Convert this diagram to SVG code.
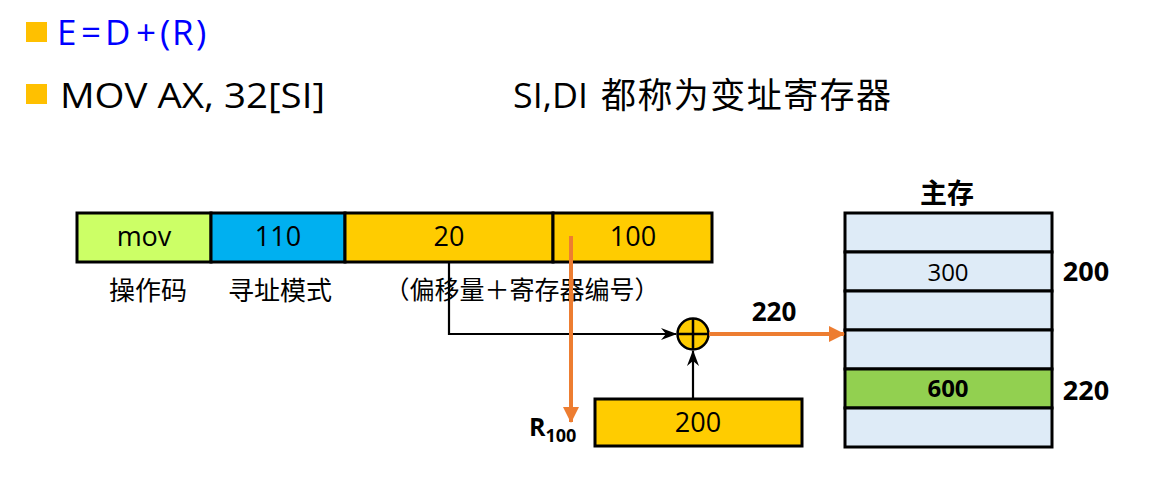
<svg xmlns="http://www.w3.org/2000/svg" width="1166" height="486" viewBox="0 0 1166 486">
<style>
text{font-family:"Open Sans","Noto Sans CJK SC",sans-serif;fill:#000}
.cjk{font-family:"Noto Sans CJK SC",sans-serif}
.box{stroke:#000;stroke-width:3}
.c{text-anchor:middle}
.b{font-weight:bold}
.blk{stroke:#000;stroke-width:2.2;fill:none}
.org{stroke:#ED7D31;stroke-width:4;fill:none}
</style>
<defs>
<marker id="ab" viewBox="0 0 16 12" refX="15" refY="6" markerWidth="16" markerHeight="12" markerUnits="userSpaceOnUse" orient="auto">
<path d="M0,0 L16,6 L0,12 L5,6 Z" fill="#000"/>
</marker>
<marker id="ao" viewBox="0 0 16 16" refX="15" refY="8" markerWidth="16" markerHeight="16" markerUnits="userSpaceOnUse" orient="auto">
<path d="M0,0 L16,8 L0,16 Z" fill="#ED7D31"/>
</marker>
</defs>

<g id="title">
<rect x="26" y="22" width="21" height="20" fill="#FFC000"/>
<text x="57 81 105 136 160 172 196" y="45" font-size="35" style="fill:#0000FF">E=D+(R)</text>
<rect x="26" y="84" width="21" height="20" fill="#FFC000"/>
<text x="60" y="108" font-size="34" textLength="265" lengthAdjust="spacingAndGlyphs">MOV AX, 32[SI]</text>
<text x="513" y="108" font-size="34" textLength="75" lengthAdjust="spacingAndGlyphs">SI,DI</text>
<text class="cjk" x="601" y="108" font-size="35" textLength="290" lengthAdjust="spacing">都称为变址寄存器</text>
</g>

<g id="instruction">
<rect class="box" x="77" y="213" width="134" height="49" fill="#CCFF66"/>
<rect class="box" x="211" y="213" width="134" height="49" fill="#00B0F0"/>
<rect class="box" x="345" y="213" width="208" height="49" fill="#FFCC00"/>
<rect class="box" x="553" y="213" width="159" height="49" fill="#FFCC00"/>
<text class="c" x="144" y="246" font-size="27">mov</text>
<text class="c" x="278" y="246" font-size="27">110</text>
<text class="c" x="449" y="246" font-size="27">20</text>
<text class="c" x="633" y="246" font-size="27">100</text>
<text class="c cjk" x="148" y="300" font-size="26">操作码</text>
<text class="c cjk" x="280" y="300" font-size="26">寻址模式</text>
<text class="c cjk" x="522" y="299" font-size="25">（偏移量＋寄存器编号）</text>
</g>

<g id="register">
<rect class="box" x="595" y="399" width="207" height="47" fill="#FFCC00"/>
<text class="c" x="698" y="432" font-size="27">200</text>
</g>

<g id="adder">
<circle cx="693" cy="334" r="15.5" fill="#FFCC00" stroke="#000" stroke-width="2.5"/>
<line x1="677.5" y1="334" x2="708.5" y2="334" stroke="#000" stroke-width="2.5"/>
<line x1="693" y1="318.5" x2="693" y2="349.5" stroke="#000" stroke-width="2.5"/>
</g>

<g id="memory">
<text class="c cjk b" x="947" y="203" font-size="27">主存</text>
<rect class="box" x="845" y="213" width="207" height="39" fill="#DEEBF7"/>
<rect class="box" x="845" y="252" width="207" height="39" fill="#DEEBF7"/>
<rect class="box" x="845" y="291" width="207" height="39" fill="#DEEBF7"/>
<rect class="box" x="845" y="330" width="207" height="39" fill="#DEEBF7"/>
<rect class="box" x="845" y="369" width="207" height="39" fill="#92D050"/>
<rect class="box" x="845" y="408" width="207" height="39" fill="#DEEBF7"/>
<text class="c" x="948" y="281" font-size="24">300</text>
<text class="c b" x="948" y="397" font-size="24">600</text>
<text class="c b" x="1086" y="281" font-size="27">200</text>
<text class="c b" x="1086" y="400" font-size="27">220</text>
</g>

<g id="connectors">
<polyline class="blk" points="449,262 449,334 676,334" marker-end="url(#ab)"/>
<line class="blk" x1="693" y1="399" x2="693" y2="351" marker-end="url(#ab)"/>
<line class="org" x1="571" y1="236" x2="571" y2="422" marker-end="url(#ao)"/>
<line class="org" x1="709" y1="334" x2="844" y2="334" marker-end="url(#ao)"/>
<text class="c b" x="774" y="321" font-size="26">220</text>
<text class="b" x="529" y="436" font-size="25">R<tspan font-size="18" dy="6">100</tspan></text>
</g>
</svg>
